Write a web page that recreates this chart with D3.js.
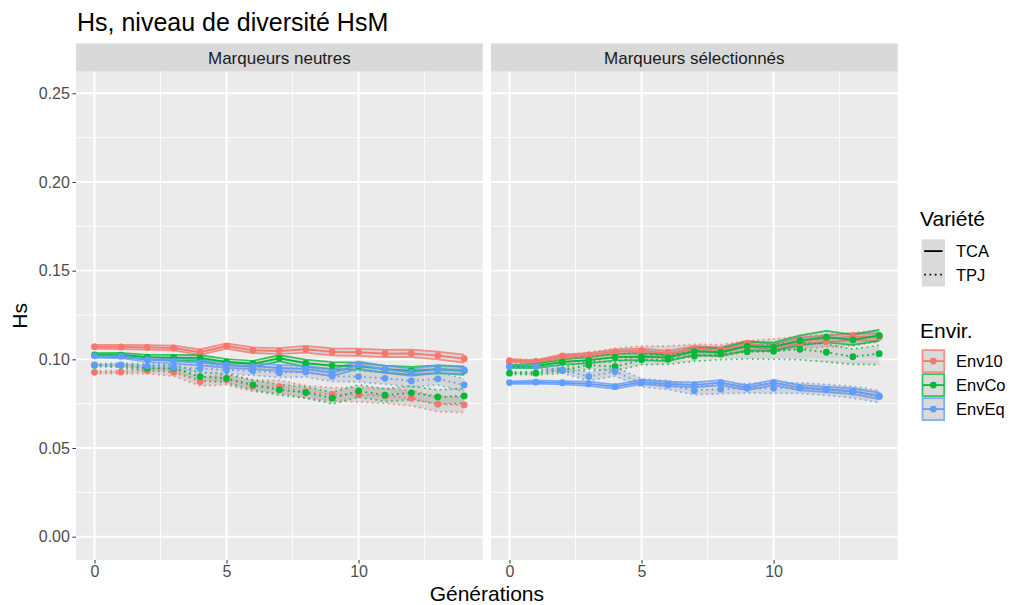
<!DOCTYPE html>
<html>
<head>
<meta charset="utf-8">
<script src="https://cdn.jsdelivr.net/npm/d3@7/dist/d3.min.js"></script>
<style>
  html, body { margin: 0; padding: 0; background: #ffffff; }
  svg { display: block; font-family: "Liberation Sans", Arial, Helvetica, sans-serif; }
</style>
</head>
<body>
<svg id="chart" width="1010" height="605"></svg>
<script>
// Generations on the x axis
const generations = [0, 1, 2, 3, 4, 5, 6, 7, 8, 9, 10, 11, 12, 13, 14];

// Facets and legend categories
const panels = ["Marqueurs neutres", "Marqueurs sélectionnés"];
const envirs = ["Env10", "EnvCo", "EnvEq"];
const varietes = ["TCA", "TPJ"];
const yTicks = [0, 0.05, 0.10, 0.15, 0.20, 0.25];
const xTicks = [0, 5, 10];

// ---- Marqueurs neutres : mean Hs and ribbon bounds ----
const neuEnv10TCA   = [0.1071,0.1070,0.1068,0.1064,0.1040,0.1075,0.1051,0.1047,0.1057,0.1042,0.1040,0.1032,0.1034,0.1021,0.1004];
const neuEnv10TCALo = [0.1060,0.1058,0.1055,0.1050,0.1025,0.1060,0.1035,0.1030,0.1038,0.1022,0.1020,0.1012,0.1013,0.1000,0.0982];
const neuEnv10TCAHi = [0.1082,0.1082,0.1080,0.1078,0.1056,0.1090,0.1067,0.1064,0.1076,0.1062,0.1060,0.1053,0.1055,0.1043,0.1027];

const neuEnv10TPJ   = [0.0927,0.0928,0.0935,0.0927,0.0875,0.0885,0.0850,0.0846,0.0816,0.0803,0.0800,0.0794,0.0781,0.0747,0.0743];
const neuEnv10TPJLo = [0.0920,0.0918,0.0920,0.0905,0.0850,0.0856,0.0818,0.0810,0.0780,0.0765,0.0760,0.0752,0.0738,0.0705,0.0700];
const neuEnv10TPJHi = [0.0934,0.0938,0.0950,0.0950,0.0900,0.0912,0.0884,0.0882,0.0852,0.0840,0.0840,0.0836,0.0824,0.0790,0.0786];

const neuEnvCoTCA   = [0.1025,0.1024,0.1012,0.1010,0.1008,0.0985,0.0975,0.1006,0.0978,0.0965,0.0962,0.0945,0.0935,0.0944,0.0935];
const neuEnvCoTCALo = [0.1015,0.1012,0.0998,0.0995,0.0992,0.0968,0.0958,0.0988,0.0958,0.0945,0.0942,0.0925,0.0913,0.0922,0.0912];
const neuEnvCoTCAHi = [0.1035,0.1036,0.1026,0.1025,0.1024,0.1002,0.0992,0.1024,0.0998,0.0985,0.0982,0.0965,0.0957,0.0966,0.0958];

const neuEnvCoTPJ   = [0.0966,0.0966,0.0950,0.0950,0.0903,0.0893,0.0856,0.0828,0.0813,0.0781,0.0822,0.0798,0.0811,0.0788,0.0794];
const neuEnvCoTPJLo = [0.0960,0.0956,0.0935,0.0930,0.0880,0.0868,0.0828,0.0798,0.0782,0.0748,0.0788,0.0762,0.0773,0.0748,0.0752];
const neuEnvCoTPJHi = [0.0972,0.0976,0.0965,0.0970,0.0926,0.0918,0.0884,0.0858,0.0844,0.0814,0.0856,0.0834,0.0849,0.0828,0.0836];

const neuEnvEqTCA   = [0.1020,0.1018,0.0998,0.0990,0.0982,0.0968,0.0962,0.0952,0.0945,0.0925,0.0968,0.0944,0.0927,0.0944,0.0940];
const neuEnvEqTCALo = [0.1010,0.1006,0.0985,0.0975,0.0966,0.0952,0.0945,0.0935,0.0927,0.0906,0.0948,0.0924,0.0906,0.0922,0.0918];
const neuEnvEqTCAHi = [0.1030,0.1030,0.1011,0.1005,0.0998,0.0984,0.0979,0.0969,0.0963,0.0944,0.0988,0.0964,0.0948,0.0966,0.0962];

const neuEnvEqTPJ   = [0.0968,0.0968,0.0962,0.0955,0.0948,0.0940,0.0935,0.0925,0.0928,0.0905,0.0903,0.0893,0.0878,0.0890,0.0856];
const neuEnvEqTPJLo = [0.0962,0.0958,0.0948,0.0938,0.0928,0.0918,0.0910,0.0898,0.0900,0.0875,0.0872,0.0860,0.0844,0.0855,0.0820];
const neuEnvEqTPJHi = [0.0974,0.0978,0.0976,0.0972,0.0968,0.0962,0.0960,0.0952,0.0956,0.0935,0.0934,0.0926,0.0912,0.0925,0.0892];

// ---- Marqueurs sélectionnés : mean Hs and ribbon bounds ----
const selEnv10TCA   = [0.0993,0.0988,0.1019,0.1025,0.1043,0.1049,0.1034,0.1060,0.1053,0.1090,0.1068,0.1105,0.1115,0.1128,0.1124];
const selEnv10TCALo = [0.0985,0.0980,0.1010,0.1015,0.1032,0.1037,0.1021,0.1046,0.1038,0.1074,0.1051,0.1087,0.1096,0.1108,0.1103];
const selEnv10TCAHi = [0.1001,0.0996,0.1028,0.1035,0.1054,0.1061,0.1047,0.1074,0.1068,0.1106,0.1085,0.1123,0.1134,0.1148,0.1145];

const selEnv10TPJ   = [0.0988,0.0985,0.1002,0.1012,0.1030,0.1035,0.1040,0.1048,0.1045,0.1070,0.1075,0.1090,0.1100,0.1108,0.1130];
const selEnv10TPJLo = [0.0978,0.0972,0.0985,0.0992,0.1008,0.1010,0.1015,0.1020,0.1018,0.1042,0.1046,0.1060,0.1070,0.1076,0.1098];
const selEnv10TPJHi = [0.0998,0.0998,0.1022,0.1040,0.1062,0.1075,0.1075,0.1085,0.1082,0.1105,0.1115,0.1130,0.1140,0.1150,0.1165];

const selEnvCoTCA   = [0.0960,0.0962,0.0985,0.0995,0.1012,0.1015,0.1010,0.1045,0.1040,0.1075,0.1070,0.1105,0.1125,0.1110,0.1135];
const selEnvCoTCALo = [0.0952,0.0950,0.0970,0.0978,0.0994,0.0996,0.0990,0.1024,0.1018,0.1050,0.1046,0.1078,0.1095,0.1082,0.1104];
const selEnvCoTCAHi = [0.0968,0.0974,0.1000,0.1012,0.1030,0.1034,0.1030,0.1066,0.1062,0.1100,0.1094,0.1135,0.1160,0.1140,0.1166];

const selEnvCoTPJ   = [0.0922,0.0922,0.0938,0.0968,0.0959,0.0997,0.1000,0.1018,0.1030,0.1043,0.1045,0.1057,0.1040,0.1015,0.1032];
const selEnvCoTPJLo = [0.0916,0.0912,0.0922,0.0945,0.0935,0.0970,0.0972,0.0990,0.0998,0.1002,0.1000,0.0998,0.0985,0.0972,0.0970];
const selEnvCoTPJHi = [0.0928,0.0932,0.0954,0.0990,0.0984,0.1024,0.1028,0.1048,0.1062,0.1078,0.1085,0.1099,0.1085,0.1058,0.1080];

const selEnvEqTCA   = [0.0869,0.0872,0.0868,0.0862,0.0846,0.0872,0.0862,0.0856,0.0869,0.0840,0.0869,0.0840,0.0830,0.0820,0.0794];
const selEnvEqTCALo = [0.0862,0.0863,0.0858,0.0850,0.0834,0.0860,0.0849,0.0842,0.0855,0.0826,0.0854,0.0825,0.0815,0.0804,0.0776];
const selEnvEqTCAHi = [0.0876,0.0881,0.0878,0.0874,0.0858,0.0884,0.0875,0.0870,0.0883,0.0854,0.0884,0.0855,0.0845,0.0836,0.0812];

const selEnvEqTPJ   = [0.0960,0.0960,0.0940,0.0903,0.0931,0.0868,0.0855,0.0824,0.0832,0.0837,0.0837,0.0838,0.0828,0.0815,0.0790];
const selEnvEqTPJLo = [0.0955,0.0950,0.0922,0.0880,0.0905,0.0845,0.0830,0.0800,0.0806,0.0810,0.0808,0.0808,0.0797,0.0782,0.0755];
const selEnvEqTPJHi = [0.0965,0.0970,0.0958,0.0926,0.0957,0.0891,0.0880,0.0848,0.0858,0.0864,0.0866,0.0868,0.0859,0.0848,0.0825];

// Table of groups, in drawing order (Env10, EnvCo, EnvEq ; TCA then TPJ)
const groups = [
  { panel: 0, envir: "Env10", variete: "TCA", mean: neuEnv10TCA, lo: neuEnv10TCALo, hi: neuEnv10TCAHi },
  { panel: 0, envir: "Env10", variete: "TPJ", mean: neuEnv10TPJ, lo: neuEnv10TPJLo, hi: neuEnv10TPJHi },
  { panel: 0, envir: "EnvCo", variete: "TCA", mean: neuEnvCoTCA, lo: neuEnvCoTCALo, hi: neuEnvCoTCAHi },
  { panel: 0, envir: "EnvCo", variete: "TPJ", mean: neuEnvCoTPJ, lo: neuEnvCoTPJLo, hi: neuEnvCoTPJHi },
  { panel: 0, envir: "EnvEq", variete: "TCA", mean: neuEnvEqTCA, lo: neuEnvEqTCALo, hi: neuEnvEqTCAHi },
  { panel: 0, envir: "EnvEq", variete: "TPJ", mean: neuEnvEqTPJ, lo: neuEnvEqTPJLo, hi: neuEnvEqTPJHi },
  { panel: 1, envir: "Env10", variete: "TCA", mean: selEnv10TCA, lo: selEnv10TCALo, hi: selEnv10TCAHi },
  { panel: 1, envir: "Env10", variete: "TPJ", mean: selEnv10TPJ, lo: selEnv10TPJLo, hi: selEnv10TPJHi },
  { panel: 1, envir: "EnvCo", variete: "TCA", mean: selEnvCoTCA, lo: selEnvCoTCALo, hi: selEnvCoTCAHi },
  { panel: 1, envir: "EnvCo", variete: "TPJ", mean: selEnvCoTPJ, lo: selEnvCoTPJLo, hi: selEnvCoTPJHi },
  { panel: 1, envir: "EnvEq", variete: "TCA", mean: selEnvEqTCA, lo: selEnvEqTCALo, hi: selEnvEqTCAHi },
  { panel: 1, envir: "EnvEq", variete: "TPJ", mean: selEnvEqTPJ, lo: selEnvEqTPJLo, hi: selEnvEqTPJHi }
];

// ---- Layout ----
const svg = d3.select("#chart");
const panelTop = 71.7, panelBottom = 560, stripTop = 43.5;
const panelX = [[76, 482.7], [491, 897.7]];

const color = d3.scaleOrdinal().domain(envirs).range(["#F8766D", "#00BA38", "#619CFF"]);
const dash = d3.scaleOrdinal().domain(varietes).range(["none", "1.7,3.6"]);

const y = d3.scaleLinear().domain([0, 0.25]).range([536.7, 93.3]);
const xScales = panelX.map(r => d3.scaleLinear().domain([-0.7, 14.7]).range(r));

// Title
svg.append("text").attr("x", 77).attr("y", 30.5)
  .attr("font-size", 25).attr("fill", "#000")
  .text("Hs, niveau de diversité HsM");

panels.forEach((name, p) => {
  const x = xScales[p];
  const [x0, x1] = panelX[p];
  const g = svg.append("g");

  // strip
  g.append("rect").attr("x", x0).attr("y", stripTop).attr("width", x1 - x0)
    .attr("height", panelTop - stripTop).attr("fill", "#d9d9d9");
  g.append("text").attr("x", (x0 + x1) / 2).attr("y", 63.5)
    .attr("text-anchor", "middle").attr("font-size", 17).attr("fill", "#1a1a1a")
    .text(name);

  // panel background
  g.append("rect").attr("x", x0).attr("y", panelTop).attr("width", x1 - x0)
    .attr("height", panelBottom - panelTop).attr("fill", "#ebebeb");

  // minor grid
  const yMinor = [0.025, 0.075, 0.125, 0.175, 0.225];
  const xMinor = [2.5, 7.5, 12.5];
  g.selectAll(".ymin").data(yMinor).join("line")
    .attr("x1", x0).attr("x2", x1).attr("y1", d => y(d)).attr("y2", d => y(d))
    .attr("stroke", "#ffffff").attr("stroke-width", 0.9);
  g.selectAll(".xmin").data(xMinor).join("line")
    .attr("y1", panelTop).attr("y2", panelBottom).attr("x1", d => x(d)).attr("x2", d => x(d))
    .attr("stroke", "#ffffff").attr("stroke-width", 0.9);
  // major grid
  g.selectAll(".ymaj").data(yTicks).join("line")
    .attr("x1", x0).attr("x2", x1).attr("y1", d => y(d)).attr("y2", d => y(d))
    .attr("stroke", "#ffffff").attr("stroke-width", 1.9);
  g.selectAll(".xmaj").data(xTicks).join("line")
    .attr("y1", panelTop).attr("y2", panelBottom).attr("x1", d => x(d)).attr("x2", d => x(d))
    .attr("stroke", "#ffffff").attr("stroke-width", 1.9);

  // x axis
  const ax = g.append("g").attr("transform", `translate(0,${panelBottom})`)
    .call(d3.axisBottom(x).tickValues(xTicks).tickSize(3.6).tickPadding(2).tickFormat(d3.format("d")));
  ax.select(".domain").remove();
  ax.selectAll(".tick line").attr("stroke", "#333333").attr("stroke-width", 1);
  ax.selectAll(".tick text").attr("fill", "#4d4d4d").attr("font-size", 16)
    .attr("font-family", "Liberation Sans, Arial, sans-serif");

  const pg = groups.filter(d => d.panel === p);
  const area = d3.area().x((d, i) => x(generations[i]))
    .y0(d => y(d[0])).y1(d => y(d[1]));
  const line = d3.line().x((d, i) => x(generations[i])).y(d => y(d));

  // ribbons: grey fill with coloured outlines
  pg.forEach(s => {
    const bounds = s.lo.map((v, i) => [v, s.hi[i]]);
    g.append("path").datum(bounds).attr("d", area)
      .attr("fill", "#7f7f7f").attr("fill-opacity", 0.2).attr("stroke", "none");
    [s.lo, s.hi].forEach(b => {
      g.append("path").datum(b).attr("d", line)
        .attr("fill", "none").attr("stroke", color(s.envir)).attr("stroke-opacity", 0.8)
        .attr("stroke-width", 1.7).attr("stroke-dasharray", dash(s.variete));
    });
  });
  // mean lines
  pg.forEach(s => {
    g.append("path").datum(s.mean).attr("d", line)
      .attr("fill", "none").attr("stroke", color(s.envir))
      .attr("stroke-width", 1.8).attr("stroke-dasharray", dash(s.variete));
  });
  // points
  pg.forEach(s => {
    g.selectAll(null).data(s.mean).join("circle")
      .attr("cx", (d, i) => x(generations[i])).attr("cy", d => y(d))
      .attr("r", 3.4).attr("fill", color(s.envir));
  });
});

// y axis (left panel only)
const ay = svg.append("g").attr("transform", `translate(${panelX[0][0]},0)`)
  .call(d3.axisLeft(y).tickValues(yTicks).tickSize(3.6).tickPadding(2.5).tickFormat(d3.format(".2f")));
ay.select(".domain").remove();
ay.selectAll(".tick line").attr("stroke", "#333333").attr("stroke-width", 1);
ay.selectAll(".tick text").attr("fill", "#4d4d4d").attr("font-size", 16)
  .attr("font-family", "Liberation Sans, Arial, sans-serif");

// axis titles
svg.append("text").attr("x", (panelX[0][0] + panelX[1][1]) / 2).attr("y", 601)
  .attr("text-anchor", "middle").attr("font-size", 21).attr("fill", "#000")
  .text("Générations");
svg.append("text").attr("transform", `translate(27,${(panelTop + panelBottom) / 2}) rotate(-90)`)
  .attr("text-anchor", "middle").attr("font-size", 21).attr("fill", "#000")
  .text("Hs");

// ---- Legends ----
const lg = svg.append("g");
const keyX = 921.7, keyW = 23.3, keyH = 23.6;

lg.append("text").attr("x", 920).attr("y", 226).attr("font-size", 21).attr("fill", "#000").text("Variété");
varietes.forEach((v, i) => {
  const ky = 239.3 + i * keyH;
  lg.append("rect").attr("x", keyX).attr("y", ky).attr("width", keyW).attr("height", keyH).attr("fill", "#f2f2f2");
  lg.append("rect").attr("x", keyX).attr("y", ky).attr("width", keyW).attr("height", keyH)
    .attr("fill", "#7f7f7f").attr("fill-opacity", 0.2);
  lg.append("line").attr("x1", keyX + 2.5).attr("x2", keyX + keyW - 2.5)
    .attr("y1", ky + keyH / 2).attr("y2", ky + keyH / 2)
    .attr("stroke", "#000").attr("stroke-width", 1.8).attr("stroke-dasharray", dash(v));
  lg.append("text").attr("x", 956).attr("y", ky + keyH / 2 + 5.8).attr("font-size", 16.5).attr("fill", "#000").text(v);
});

lg.append("text").attr("x", 920).attr("y", 337.5).attr("font-size", 21).attr("fill", "#000").text("Envir.");
envirs.forEach((e, i) => {
  const ky = 349.3 + i * 24;
  lg.append("rect").attr("x", keyX).attr("y", ky).attr("width", keyW).attr("height", keyH).attr("fill", "#f2f2f2");
  lg.append("rect").attr("x", keyX + 0.8).attr("y", ky + 0.8).attr("width", keyW - 1.6).attr("height", keyH - 1.6)
    .attr("fill", "#7f7f7f").attr("fill-opacity", 0.2)
    .attr("stroke", color(e)).attr("stroke-opacity", 0.8).attr("stroke-width", 1.7);
  lg.append("line").attr("x1", keyX + 1).attr("x2", keyX + keyW - 1)
    .attr("y1", ky + keyH / 2).attr("y2", ky + keyH / 2)
    .attr("stroke", color(e)).attr("stroke-width", 1.8);
  lg.append("circle").attr("cx", keyX + keyW / 2).attr("cy", ky + keyH / 2).attr("r", 3.4).attr("fill", color(e));
  lg.append("text").attr("x", 956).attr("y", ky + keyH / 2 + 5.8).attr("font-size", 16.5).attr("fill", "#000").text(e);
});
</script>
</body>
</html>
